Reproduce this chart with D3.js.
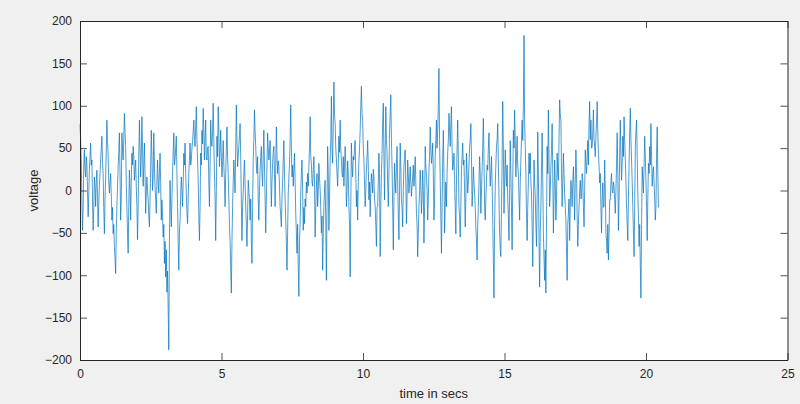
<!DOCTYPE html>
<html><head><meta charset="utf-8">
<script src="https://cdn.jsdelivr.net/npm/d3@7"></script>
<style>
html,body{margin:0;padding:0;background:#f0f0f0;}
svg{display:block;}
text{font-family:"Liberation Sans",Arial,sans-serif;}
</style></head>
<body><svg id="chart" width="800" height="404"></svg>
<script>
// Signal values (voltage), sampled uniformly from t = 0 to tEnd seconds
const voltage = [
 78,60,35,-10,-47,-20,30,48,25,16,40,32,0,-31,-5,24,
 40,56,30,36,-10,-47,-20,16,5,-19,10,24,-5,-43,-15,5,
 20,36,50,64,35,20,-20,-51,-10,16,45,83,60,40,10,-3,
 10,20,-5,-35,-20,-51,-40,-66,-80,-98,-50,-19,5,28,45,68,
 20,-35,-10,68,50,36,60,91,70,52,10,-19,-50,-74,-20,24,
 0,-35,10,44,30,52,40,12,25,36,5,-19,-58,-20,40,83,
 50,16,40,87,50,5,30,56,20,-27,-5,16,0,-11,-30,-43,
 -10,30,71,40,0,15,68,30,4,-10,-27,10,36,10,-3,20,
 44,10,-35,-11,-30,-55,-40,-86,-60,-102,-70,-120,-95,-140,-188,-60,
 12,-20,-43,-10,20,45,68,30,36,50,64,20,-19,-60,-94,-50,
 -35,-5,16,0,-19,10,44,30,56,20,-3,-25,-39,-10,20,35,
 56,30,36,50,59,70,83,60,52,75,99,60,36,10,-30,-59,
 -20,44,30,71,55,97,70,36,60,83,40,36,50,52,10,-19,
 30,83,60,52,70,103,60,20,-10,-59,0,64,40,99,70,28,
 45,71,40,16,35,59,30,10,-19,20,50,75,40,20,-10,-40,
 -60,-90,-121,-60,-19,10,36,15,-3,50,101,60,28,40,52,65,
 79,40,-10,-59,-20,-3,20,36,10,-19,-40,-66,-30,12,0,-11,
 -35,-10,-60,-86,-20,36,60,95,70,52,30,20,40,-10,-35,0,
 24,40,52,20,5,40,71,30,-10,-50,-10,30,68,50,36,45,
 59,20,-19,10,32,45,52,20,-19,30,75,40,20,35,28,5,
 -19,-30,-43,-10,12,35,59,20,-10,-35,-60,-94,-50,-3,15,32,
 60,101,50,16,30,5,25,44,10,-27,-50,-74,-40,-90,-125,-60,
 -40,-3,20,36,0,-47,-20,-39,-10,-19,10,-3,20,5,28,50,
 87,40,32,10,5,25,40,10,-55,-20,5,20,-19,0,32,15,
 1,-20,-50,-30,-94,-50,-19,0,12,-40,-106,-20,52,20,-47,-10,
 36,60,111,50,32,80,128,90,79,50,36,20,5,30,64,45,
 83,50,36,20,16,40,5,30,52,30,-19,0,35,20,-19,-40,
 -102,-20,56,30,16,40,36,50,59,20,-19,0,-35,10,36,50,
 71,100,123,90,83,50,36,10,-19,0,24,40,59,30,-11,10,
 -31,0,20,10,-3,25,16,-10,-19,-40,-66,-20,-19,10,44,20,
 -78,-19,20,44,80,103,40,-11,50,99,60,44,10,-19,20,68,
 90,113,60,28,-20,-70,-10,32,10,-3,30,52,10,-30,-58,0,
 56,30,-11,-20,-43,0,28,40,48,10,-39,-10,36,20,-3,10,
 28,10,-7,5,16,30,5,20,40,10,-27,-40,-78,-50,-19,0,
 24,5,-27,-10,24,0,-62,-20,52,30,16,0,-35,-10,24,40,
 75,50,32,40,56,20,-35,-10,40,60,83,50,70,100,144,60,
 12,-30,-74,-20,40,71,20,-50,-19,10,-19,20,44,60,91,70,
 52,80,99,50,24,30,44,12,-20,-51,10,50,83,40,-19,-30,
 -55,-20,24,40,56,30,36,0,-43,-10,44,20,-3,10,30,52,
 60,79,40,-19,0,28,10,-3,-20,-43,-60,-82,-40,-19,10,40,
 20,-27,0,24,50,85,40,-19,-35,-10,12,30,24,50,68,30,
 5,20,40,10,-35,-80,-127,-40,5,30,52,60,79,30,-10,-50,
 -70,-78,-20,36,105,50,-27,10,48,20,5,30,-10,-30,-59,0,
 59,20,-20,-70,10,71,50,95,60,16,40,64,30,20,-10,-35,
 10,36,60,83,59,100,183,80,52,20,-30,-59,-20,10,44,20,
 44,10,-3,-40,-90,-30,36,10,-7,-40,-66,-10,69,20,-60,-114,
 -50,-19,30,68,10,-50,-80,-106,-70,-121,-40,52,20,95,40,-19,
 0,28,50,79,20,-50,-10,36,10,-35,-10,44,20,12,60,107,
 90,83,20,-19,10,44,20,-3,-20,-35,-70,-106,-40,-27,-10,-59,
 -20,12,0,-19,10,28,0,-35,10,48,20,-30,-66,-40,-19,0,
 12,-10,-7,20,12,-20,-43,0,48,30,20,40,59,30,80,105,
 60,83,50,52,70,95,60,52,40,64,80,105,70,44,30,9,
 20,-19,-50,-10,9,-20,-19,36,0,-50,-60,-74,-40,-82,-50,-11,
 -11,10,20,0,-3,10,5,-10,-27,0,30,68,20,-47,-10,40,
 83,40,12,30,64,40,87,60,36,10,-19,-40,-59,-10,30,68,
 97,60,36,10,-19,-50,-78,-20,52,70,83,40,-3,-30,-66,-40,
 -90,-127,-40,28,10,-3,30,64,40,12,-20,-59,-10,32,20,52,
 30,79,40,5,20,28,10,-11,-35,-20,40,75,20,-20
];
const tEnd = 20.44;
const xTicks = [0, 5, 10, 15, 20, 25];
const yTicks = [-200, -150, -100, -50, 0, 50, 100, 150, 200];
const xDomain = [0, 25];
const yDomain = [-200, 200];
const xLabel = "time in secs";
const yLabel = "voltage";

const svg = d3.select("#chart");
const L = 80, R = 787.5, T = 21, B = 360;
const x = d3.scaleLinear().domain(xDomain).range([L, R]);
const y = d3.scaleLinear().domain(yDomain).range([B, T]);
const tScale = d3.scaleLinear().domain([0, voltage.length - 1]).range([0, tEnd]);

svg.append("rect").attr("x", L).attr("y", T).attr("width", R - L).attr("height", B - T).attr("fill", "#ffffff");

const line = d3.line().x((d, i) => x(tScale(i))).y(d => y(d));
svg.append("path").datum(voltage).attr("d", line)
  .attr("fill", "none").attr("stroke", "#0072BD").attr("stroke-width", 0.7).attr("stroke-linejoin", "round");

const axisColor = "#262626";
const tickLen = 7;
const fs = 12;
const gx = svg.append("g").attr("transform", `translate(0,${B})`)
  .call(d3.axisBottom(x).tickValues(xTicks).tickSizeInner(-tickLen).tickSizeOuter(0).tickPadding(9));
const gy = svg.append("g").attr("transform", `translate(${L},0)`)
  .call(d3.axisLeft(y).tickValues(yTicks).tickSizeInner(-tickLen).tickSizeOuter(0).tickPadding(8));
const gt = svg.append("g").attr("transform", `translate(0,${T})`)
  .call(d3.axisTop(x).tickValues(xTicks).tickSizeInner(-tickLen).tickSizeOuter(0).tickFormat(""));
const gr = svg.append("g").attr("transform", `translate(${R},0)`)
  .call(d3.axisRight(y).tickValues(yTicks).tickSizeInner(-tickLen).tickSizeOuter(0).tickFormat(""));
[gx, gy, gt, gr].forEach(g => {
  g.selectAll("path.domain").attr("stroke", axisColor).attr("stroke-width", 1);
  g.selectAll(".tick line").attr("stroke", axisColor).attr("stroke-width", 0.8);
  g.selectAll(".tick text").attr("fill", axisColor).style("font-size", fs + "px")
   .style("font-family", '"Liberation Sans",Arial,sans-serif');
});

svg.append("text").attr("x", (L + R) / 2).attr("y", 398).attr("text-anchor", "middle")
  .attr("fill", axisColor).style("font-size", "13px").text(xLabel);
svg.append("text").attr("transform", `translate(38,${(T + B) / 2}) rotate(-90)`).attr("text-anchor", "middle")
  .attr("fill", axisColor).style("font-size", "13px").text(yLabel);
</script></body></html>
